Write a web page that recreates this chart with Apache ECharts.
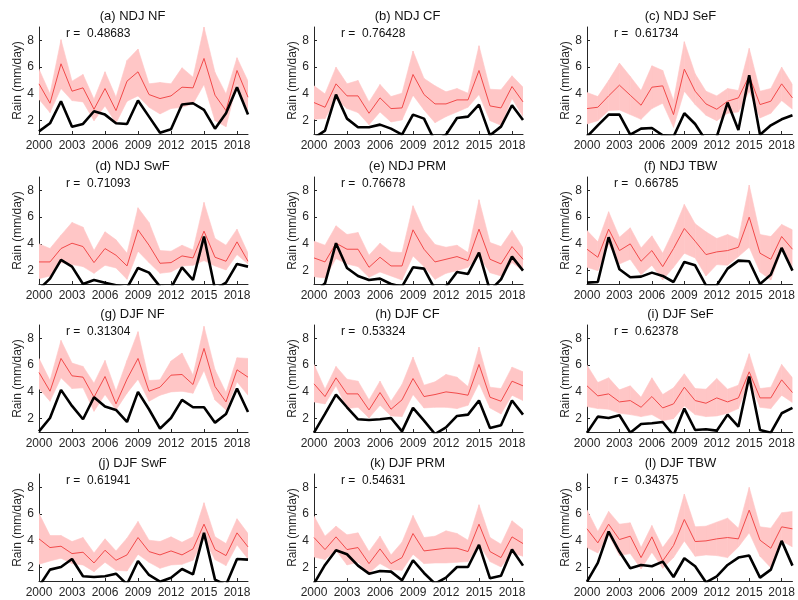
<!DOCTYPE html>
<html>
<head>
<meta charset="utf-8">
<script src="https://cdn.jsdelivr.net/npm/echarts@6/dist/echarts.min.js"></script>
<style>html,body{margin:0;padding:0;background:#fff}#c{width:798px;height:600px}</style>
</head>
<body>
<div id="c"></div>
<script>
const years = [2000,2001,2002,2003,2004,2005,2006,2007,2008,2009,2010,2011,2012,2013,2014,2015,2016,2017,2018,2019];
const xTickYears = [2000,2003,2006,2009,2012,2015,2018];
const yTicks = [2,4,6,8];
const panelTitles = ['(a) NDJ NF','(b) NDJ CF','(c) NDJ SeF','(d) NDJ SwF','(e) NDJ PRM','(f) NDJ TBW','(g) DJF NF','(h) DJF CF','(i) DJF SeF','(j) DJF SwF','(k) DJF PRM','(l) DJF TBW'];
const rValues = ['0.48683','0.76428','0.61734','0.71093','0.76678','0.66785','0.31304','0.53324','0.62378','0.61941','0.54631','0.34375'];

// (a) NDJ NF
const obsA  = [1.2,1.8,3.45,1.55,1.75,2.7,2.45,1.8,1.75,3.5,2.3,1.1,1.35,3.2,3.3,2.8,1.4,2.55,4.5,2.45];
const meanA = [4.75,3.3,6.25,4.2,4.45,2.85,4.4,2.75,4.95,5.65,3.95,3.65,3.85,4.5,4.45,6.65,3.9,2.75,5.75,3.75];
const upA   = [5.85,4.0,8.05,4.95,5.45,3.6,5.65,3.75,6.5,7.35,4.75,4.85,4.75,5.95,5.25,9.0,5.6,4.0,6.7,4.95];
const loA   = [3.6,2.6,4.4,3.5,3.4,2.0,3.1,1.8,3.45,3.85,3.0,2.5,2.9,3.0,3.25,4.7,2.0,1.55,4.75,2.7];
// (b) NDJ CF
const obsB  = [0.7,1.25,3.95,2.15,1.5,1.5,1.7,1.4,0.95,2.45,2.15,0.45,0.95,2.2,2.3,3.2,0.9,1.55,3.15,2.05];
const meanB = [3.35,3.0,4.75,3.85,3.85,2.55,3.7,2.9,2.95,5.45,3.95,3.25,3.25,3.55,3.55,5.75,3.1,2.95,4.55,3.4];
const upB   = [4.6,4.0,6.0,4.75,5.0,3.4,4.7,3.8,4.05,7.2,5.15,4.6,4.15,4.4,4.05,7.6,4.35,4.3,5.35,4.5];
const loB   = [2.1,2.15,3.6,2.9,2.6,1.7,2.65,1.9,2.05,3.9,2.8,1.85,2.3,2.65,3.0,3.95,2.0,1.65,3.65,2.3];
// (c) NDJ SeF
const obsC  = [0.8,1.65,2.45,2.45,0.95,1.4,1.45,0.9,0.8,2.55,1.75,0.5,0.8,3.35,1.3,5.4,0.95,1.65,2.1,2.4];
const meanC = [2.9,3.0,3.85,4.65,3.9,3.15,4.5,4.6,2.45,5.85,4.2,3.25,2.85,3.45,3.7,5.35,3.2,3.45,4.75,3.7];
const upC   = [4.1,3.8,5.0,6.3,5.3,4.25,6.1,5.75,3.5,7.9,5.5,4.2,3.85,4.4,4.25,7.4,4.2,4.4,6.0,4.7];
const loC   = [1.75,2.0,2.75,2.8,2.45,2.1,2.9,3.3,1.5,4.2,3.2,2.4,2.0,2.55,2.65,4.2,2.2,2.55,3.5,2.85];
// (d) NDJ SwF
const obsD  = [0.6,1.4,2.8,2.3,1.0,1.3,1.1,0.9,0.7,2.2,1.85,0.8,0.7,2.25,1.3,4.55,0.6,1.1,2.5,2.3];
const meanD = [2.65,2.65,3.65,4.05,3.8,2.6,3.65,3.15,2.35,5.05,3.9,2.55,2.6,3.1,2.95,4.95,3.0,2.7,4.15,2.7];
const upD   = [4.0,3.65,4.65,5.6,5.25,3.5,4.9,4.3,3.3,6.7,5.6,3.5,3.45,3.9,3.55,7.1,4.4,3.9,5.1,3.3];
const loD   = [1.4,1.6,2.6,2.45,2.3,1.8,2.4,2.2,1.35,3.45,2.6,1.8,1.9,2.35,2.4,2.75,2.35,2.05,3.2,2.5];
// (e) NDJ PRM
const obsE  = [0.3,1.05,4.05,2.2,1.6,1.3,1.4,1.0,0.8,2.25,2.15,0.6,0.8,1.9,1.75,3.35,0.5,1.35,3.05,2.0];
const meanE = [2.95,2.65,4.05,3.6,3.6,2.25,3.0,2.35,2.35,5.05,3.6,2.65,2.85,3.05,2.75,5.1,2.85,2.5,3.8,2.85];
const upE   = [4.2,3.9,5.35,4.7,4.85,3.15,4.05,3.4,3.35,6.85,5.0,3.95,3.75,3.9,3.35,7.3,4.1,3.8,5.0,3.7];
const loE   = [1.55,1.45,2.9,2.5,2.3,1.5,1.9,1.6,1.3,3.1,2.3,1.35,1.8,2.0,2.25,3.05,1.85,1.6,2.6,2.0];
// (f) NDJ TBW
const obsF  = [1.1,1.15,4.5,2.1,1.5,1.55,1.85,1.6,1.15,2.65,2.4,0.9,0.9,2.15,2.75,2.7,1.0,1.7,3.7,2.0];
const meanF = [3.6,3.0,5.1,3.5,4.0,2.7,3.5,2.3,3.65,5.15,4.2,3.2,3.4,3.5,3.75,6.0,3.3,2.85,4.55,3.6];
const upF   = [5.0,4.15,6.4,4.5,5.2,3.7,4.6,3.3,5.0,6.95,5.5,4.9,4.4,4.7,4.35,8.4,4.7,4.55,5.45,5.05];
const loF   = [2.25,2.0,4.0,2.5,2.85,1.7,2.4,1.3,2.25,3.3,2.95,1.6,2.45,2.4,3.05,3.75,1.9,1.3,3.5,2.3];
// (g) DJF NF
const obsG  = [1.05,2.05,4.15,2.95,1.95,3.6,2.9,2.65,1.75,4.0,2.7,1.25,2.05,3.4,2.85,2.85,1.7,2.35,4.25,2.5];
const meanG = [5.45,4.05,6.5,5.2,5.1,3.6,5.15,3.1,4.95,6.5,4.05,4.35,5.25,5.3,4.55,7.25,4.4,3.25,5.65,5.1];
const upG   = [6.5,4.85,7.85,6.15,5.9,4.65,6.35,4.05,6.35,8.5,4.85,4.9,6.3,6.9,5.25,8.9,5.65,3.95,6.55,6.5];
const loG   = [4.25,3.3,5.05,4.25,4.3,2.55,3.8,2.65,3.9,4.95,3.3,3.75,4.0,4.05,3.9,5.6,3.4,2.65,4.75,3.75];
// (h) DJF CF
const obsH  = [0.95,2.35,3.8,2.85,1.95,1.9,1.95,2.05,1.05,2.8,1.85,0.85,1.35,2.2,2.3,3.35,1.3,1.5,3.35,2.3];
const meanH = [4.6,3.65,5.05,3.85,3.85,2.65,3.95,2.7,3.4,5.0,3.65,3.8,4.0,3.9,3.75,6.05,3.6,3.3,4.8,4.45];
const upH   = [6.05,4.2,5.9,4.95,4.8,3.4,4.8,3.3,4.55,6.6,4.5,4.75,5.3,5.1,4.4,7.35,4.35,4.25,5.85,5.5];
const loH   = [3.25,3.1,4.45,2.75,2.85,2.05,3.0,2.2,2.15,3.8,2.8,2.85,2.85,2.75,3.0,4.65,2.8,2.35,3.75,3.35];
// (i) DJF SeF
const obsI  = [0.95,2.15,2.05,2.25,0.95,1.6,1.65,1.75,0.75,2.75,1.15,1.2,1.1,2.3,1.4,5.15,1.15,0.95,2.4,2.8];
const meanI = [4.45,3.7,3.85,3.25,3.35,2.85,3.65,2.8,3.1,4.35,3.35,3.15,3.55,3.25,3.55,5.5,3.55,3.55,4.9,3.95];
const upI   = [6.0,4.7,5.05,4.15,4.45,3.6,5.05,3.8,4.3,5.35,4.25,4.2,5.0,4.2,4.5,6.85,4.25,4.35,6.05,5.05];
const loI   = [2.9,2.75,2.7,2.4,2.3,2.15,2.3,1.85,2.0,2.95,2.3,2.15,2.2,2.4,2.75,4.85,2.85,2.75,3.75,3.2];
// (j) DJF SwF
const obsJ  = [0.6,1.85,2.05,2.65,1.35,1.3,1.35,1.55,0.75,2.5,1.45,0.95,1.25,1.9,1.5,4.6,1.1,0.7,2.65,2.6];
const meanJ = [4.15,3.5,3.6,3.05,3.15,2.35,3.3,2.55,2.95,4.25,3.2,2.95,3.25,2.95,3.4,5.25,3.35,2.9,4.6,3.55];
const upJ   = [6.05,4.4,4.4,3.95,4.25,3.1,4.15,3.25,4.2,5.45,4.05,3.95,4.3,3.9,4.3,6.85,4.3,3.8,5.65,4.55];
const loJ   = [2.25,2.5,2.7,2.3,2.2,1.7,2.4,1.8,1.75,3.0,2.4,1.95,2.2,2.25,2.55,4.15,2.6,2.15,3.7,2.65];
// (k) DJF PRM
const obsK  = [0.8,2.2,3.3,3.0,2.15,1.55,1.75,1.7,1.05,2.55,1.6,0.8,1.25,2.05,2.05,3.7,1.2,1.4,3.35,2.15];
const meanK = [4.25,3.35,4.3,3.35,3.5,2.3,3.4,2.3,2.75,4.55,3.25,3.35,3.45,3.45,3.2,5.25,3.2,2.75,4.3,3.8];
const upK   = [5.85,4.35,5.1,4.45,4.6,3.2,4.35,2.95,3.9,5.9,4.25,4.35,4.75,4.55,4.05,6.7,4.25,3.75,5.5,4.85];
const loK   = [2.8,2.6,3.3,2.2,2.4,1.6,2.3,1.85,1.8,3.0,2.3,2.35,2.35,2.4,2.45,3.75,2.45,2.05,3.1,2.85];
// (l) DJF TBW
const obsL  = [0.95,2.35,4.7,3.2,1.95,2.2,2.1,2.45,1.3,2.7,2.1,0.9,1.35,2.2,2.75,2.9,1.25,1.85,4.0,2.15];
const meanL = [4.9,3.85,5.25,4.1,4.35,2.75,4.3,2.5,3.65,5.6,3.95,4.0,4.15,4.25,4.15,6.3,4.05,3.45,5.05,4.9];
const upL   = [6.3,4.7,6.2,5.25,5.35,3.5,5.15,3.5,4.6,7.5,5.05,5.1,5.4,5.7,4.95,8.0,5.05,4.95,6.1,6.2];
const loL   = [3.5,3.1,4.45,2.9,3.05,1.9,3.15,1.95,2.75,4.0,2.85,2.95,2.9,2.75,3.55,4.6,2.85,2.0,4.0,3.55];

const panels = [
  [obsA,meanA,upA,loA],[obsB,meanB,upB,loB],[obsC,meanC,upC,loC],
  [obsD,meanD,upD,loD],[obsE,meanE,upE,loE],[obsF,meanF,upF,loF],
  [obsG,meanG,upG,loG],[obsH,meanH,upH,loH],[obsI,meanI,upI,loI],
  [obsJ,meanJ,upJ,loJ],[obsK,meanK,upK,loK],[obsL,meanL,upL,loL]
];

const colLeft = [39, 314, 587];
const plotW = 209;
const rowTop = [27, 177, 325, 474];
const plotH = 107;
const axisColor = '#262626';
const bandColor = '#ffc6c6';
const FONT = 'Liberation Sans, Arial, sans-serif';

// band drawn as one quadrilateral per year-to-year segment, positioned through the axis scales
function bandRender(params, api) {
  const p0u = api.coord([api.value(0), api.value(2)]);
  const p1u = api.coord([api.value(3), api.value(5)]);
  const p1l = api.coord([api.value(3), api.value(4)]);
  const p0l = api.coord([api.value(0), api.value(1)]);
  const cs = params.coordSys;
  return {
    type: 'polygon',
    shape: {points: [p0u, p1u, p1l, p0l]},
    style: {fill: bandColor, stroke: bandColor, lineWidth: 0.6},
    clipPath: {type: 'rect', shape: {x: cs.x, y: cs.y, width: cs.width, height: cs.height}}
  };
}

const grid = [], xAxis = [], yAxis = [], series = [], graphic = [];
panels.forEach((p, i) => {
  const r = Math.floor(i / 3), c = i % 3;
  const left = colLeft[c], top = rowTop[r];
  grid.push({left: left, top: top, width: plotW, height: plotH, containLabel: false});
  xAxis.push({
    type: 'value', gridIndex: i, min: 2000, max: 2019,
    axisLine: {show: true, lineStyle: {color: axisColor, width: 1}},
    axisTick: {show: true, inside: true, length: 3, lineStyle: {color: axisColor}, customValues: xTickYears},
    axisLabel: {show: true, color: axisColor, fontSize: 12, fontFamily: FONT, margin: 6, customValues: xTickYears, formatter: v => String(v)},
    splitLine: {show: false}
  });
  yAxis.push({
    type: 'value', gridIndex: i, min: 1, max: 9,
    name: 'Rain (mm/day)', nameLocation: 'middle', nameGap: 15, nameRotate: 90,
    nameTextStyle: {color: axisColor, fontSize: 12, fontFamily: FONT},
    axisLine: {show: true, lineStyle: {color: axisColor, width: 1}},
    axisTick: {show: true, inside: true, length: 3, lineStyle: {color: axisColor}, customValues: yTicks},
    axisLabel: {show: true, color: axisColor, fontSize: 12, fontFamily: FONT, margin: 5, customValues: yTicks},
    splitLine: {show: false}
  });
  const [obs, mean, up, lo] = p;
  const segs = [];
  for (let k = 0; k < years.length - 1; k++) {
    segs.push([years[k], lo[k], up[k], years[k + 1], lo[k + 1], up[k + 1]]);
  }
  series.push({
    type: 'custom', xAxisIndex: i, yAxisIndex: i, silent: true, z: 1,
    renderItem: bandRender,
    encode: {x: [0, 3], y: [1, 2, 4, 5]},
    data: segs
  });
  series.push({
    type: 'line', xAxisIndex: i, yAxisIndex: i, symbol: 'none', silent: true,
    lineStyle: {color: '#f24a4a', width: 1}, data: years.map((y, k) => [y, mean[k]]), z: 2
  });
  series.push({
    type: 'line', xAxisIndex: i, yAxisIndex: i, symbol: 'none', silent: true,
    lineStyle: {color: '#000', width: 2.6}, data: years.map((y, k) => [y, obs[k]]), z: 3
  });
  graphic.push({
    type: 'text', x: left + plotW / 2 - 11, y: top - 11,
    style: {text: panelTitles[i], textAlign: 'center', textVerticalAlign: 'middle', font: '13px ' + FONT, fill: '#111'}
  });
  graphic.push({
    type: 'text', x: left + 27, y: top + 7,
    style: {text: 'r =  ' + rValues[i], textAlign: 'left', textVerticalAlign: 'middle', font: '12px ' + FONT, fill: '#111'}
  });
});

const chart = echarts.init(document.getElementById('c'), null, {renderer: 'canvas'});
chart.setOption({
  animation: false,
  backgroundColor: '#fff',
  grid: grid, xAxis: xAxis, yAxis: yAxis, series: series, graphic: graphic
});
</script>
</body>
</html>
